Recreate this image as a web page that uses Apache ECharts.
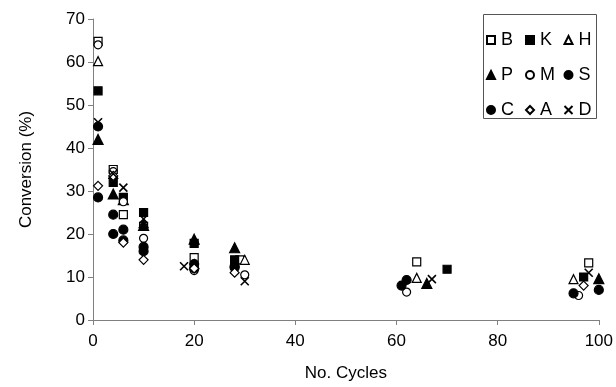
<!DOCTYPE html>
<html>
<head>
<meta charset="utf-8">
<script src="https://cdn.jsdelivr.net/npm/echarts@6/dist/echarts.min.js"></script>
<style>
  html, body { margin: 0; padding: 0; background: #fff; }
  #chart { width: 616px; height: 387px; }
</style>
</head>
<body>
<div id="chart"></div>
<script>
// data: [cycle, conversion %]
const seriesB = [[1, 64.8], [4, 35], [6, 24.5], [10, 21.8], [20, 14.5], [29, 14], [64, 13.5], [98, 13.3]];
const seriesK = [[1, 53.3], [4, 32], [6, 28.5], [10, 25], [20, 17.8], [28, 14], [70, 11.8], [97, 10]];
const seriesH = [[1, 60.2], [4, 34], [10, 22.5], [20, 13], [30, 14], [64, 9.8], [95, 9.5]];
const seriesP = [[1, 42], [4, 29.3], [6, 28], [10, 22], [20, 18.8], [28, 16.8], [66, 8.5], [100, 9.6]];
const seriesM = [[1, 64], [4, 34.5], [6, 27.5], [10, 19], [20, 11.5], [30, 10.5], [62, 6.5], [96, 5.7]];
const seriesS = [[1, 45], [4, 20], [6, 21], [10, 17], [20, 13], [28, 12.2], [62, 9.3], [95, 6.2]];
const seriesC = [[1, 28.5], [4, 24.5], [6, 18.5], [10, 16], [20, 12], [28, 12.5], [61, 8], [100, 7]];
const seriesA = [[1, 31.2], [4, 33.5], [6, 18], [10, 14], [20, 12], [28, 11], [97, 8]];
const seriesD = [[1, 46], [4, 34], [6, 30.8], [10, 23.5], [18, 12.5], [30, 9], [67, 9.5], [98, 11]];

const xTicks = { min: 0, max: 100, interval: 20 };
const yTicks = { min: 0, max: 70, interval: 10 };

const FONT = 'Liberation Sans, Arial, sans-serif';
const crossPath = 'path://M0,0L10,10M10,0L0,10';

const styles = {
  B: { symbol: 'rect', fill: '#fff', size: 8 },
  K: { symbol: 'rect', fill: '#000', size: 8 },
  H: { symbol: 'triangle', fill: '#fff', size: 9 },
  P: { symbol: 'triangle', fill: '#000', size: 10 },
  M: { symbol: 'circle', fill: '#fff', size: 8 },
  S: { symbol: 'circle', fill: '#000', size: 9 },
  C: { symbol: 'circle', fill: '#000', size: 9 },
  A: { symbol: 'diamond', fill: '#fff', size: 9 },
  D: { symbol: crossPath, fill: 'none', size: 8 }
};

const dataByName = {
  B: seriesB, K: seriesK, H: seriesH,
  P: seriesP, M: seriesM, S: seriesS,
  C: seriesC, A: seriesA, D: seriesD
};

const series = Object.keys(dataByName).map(name => ({
  name: name,
  type: 'scatter',
  symbol: styles[name].symbol,
  symbolSize: styles[name].size,
  itemStyle: {
    color: styles[name].fill,
    borderColor: '#000',
    borderWidth: name === 'D' ? 1.6 : 1.2,
    opacity: 1
  },
  emphasis: { disabled: true },
  data: dataByName[name]
}));

const legendCommon = {
  orient: 'vertical',
  top: 31,
  padding: 0,
  itemWidth: 8,
  itemHeight: 8,
  itemGap: 17,
  selectedMode: false,
  textStyle: { fontFamily: FONT, fontSize: 18, color: '#000', padding: [0, 0, 0, 1] }
};

const chart = echarts.init(document.getElementById('chart'));
chart.setOption({
  animation: false,
  backgroundColor: '#fff',
  grid: { left: 93, right: 16, top: 19, bottom: 61 },
  legend: [
    Object.assign({}, legendCommon, { left: 486, data: ['B', 'P', 'C'] }),
    Object.assign({}, legendCommon, { left: 525, data: ['K', 'M', 'A'] }),
    Object.assign({}, legendCommon, { left: 562, data: ['H', 'S', 'D'] })
  ],
  graphic: [{
    type: 'rect',
    shape: { x: 483.5, y: 14.5, width: 113, height: 104 },
    style: { fill: 'none', stroke: '#555', lineWidth: 1 },
    z: 1
  }],
  xAxis: {
    type: 'value',
    min: xTicks.min, max: xTicks.max, interval: xTicks.interval,
    name: 'No. Cycles',
    nameLocation: 'middle',
    nameGap: 45,
    nameTextStyle: { fontFamily: FONT, fontSize: 17, color: '#000' },
    axisLine: { show: true, lineStyle: { color: '#808080', width: 1 } },
    axisTick: { show: true, inside: false, length: 5, lineStyle: { color: '#808080' } },
    axisLabel: { fontFamily: FONT, fontSize: 17, color: '#000', margin: 13 },
    splitLine: { show: false }
  },
  yAxis: {
    type: 'value',
    min: yTicks.min, max: yTicks.max, interval: yTicks.interval,
    name: 'Conversion (%)',
    nameLocation: 'middle',
    nameGap: 58,
    nameTextStyle: { fontFamily: FONT, fontSize: 17, color: '#000' },
    axisLine: { show: true, lineStyle: { color: '#808080', width: 1 } },
    axisTick: { show: true, inside: false, length: 5, lineStyle: { color: '#808080' } },
    axisLabel: { fontFamily: FONT, fontSize: 17, color: '#000', margin: 8 },
    splitLine: { show: false }
  },
  series: series
});
</script>
</body>
</html>
